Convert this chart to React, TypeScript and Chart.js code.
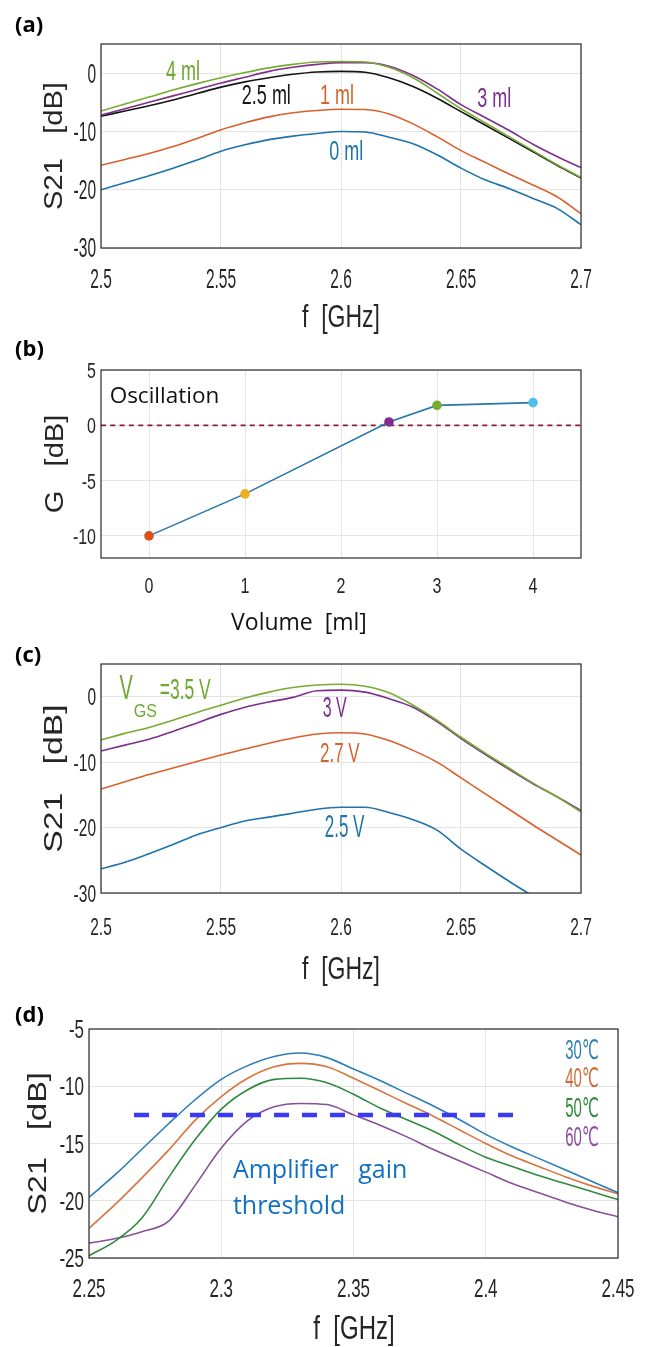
import React, { useEffect, useRef } from "react";
import { Chart, registerables } from "chart.js";

Chart.register(...registerables);

// ---------------- Panel (a): S21 vs f for liquid volume ----------------
const freqA = [2.5, 2.51, 2.52, 2.53, 2.54, 2.55, 2.56, 2.57, 2.58, 2.59, 2.6, 2.61, 2.62, 2.63, 2.64, 2.65, 2.66, 2.67, 2.68, 2.69, 2.7];
const s21Vol0 = [-20.0, -18.8, -17.6, -16.3, -14.9, -13.4, -12.3, -11.4, -10.8, -10.35, -10.0, -10.1, -11.0, -12.1, -14.0, -16.3, -18.3, -19.8, -21.5, -23.2, -26.0];
const s21Vol1 = [-15.8, -14.8, -13.8, -12.6, -11.2, -9.7, -8.5, -7.5, -6.8, -6.4, -6.2, -6.25, -7.0, -8.7, -10.9, -13.3, -15.3, -17.3, -19.2, -21.2, -24.1];
const s21Vol25 = [-7.4, -6.5, -5.6, -4.6, -3.5, -2.4, -1.5, -0.8, -0.2, 0.2, 0.3, 0.15, -0.8, -2.3, -4.3, -6.6, -8.9, -11.2, -13.5, -15.8, -18.0];
const s21Vol3 = [-7.2, -6.1, -5.0, -3.9, -2.8, -1.7, -0.7, 0.3, 1.0, 1.5, 1.8, 1.8, 1.2, -0.4, -2.7, -5.4, -7.6, -9.8, -12.2, -14.3, -16.2];
const s21Vol4 = [-6.5, -5.3, -4.1, -2.9, -1.8, -0.8, 0.1, 0.9, 1.5, 1.9, 2.0, 1.9, 1.0, -0.8, -3.4, -6.1, -8.5, -10.9, -13.3, -15.7, -17.9];
const freqTicksA = [2.5, 2.55, 2.6, 2.65, 2.7];
const freqTickLabelsA = ["2.5", "2.55", "2.6", "2.65", "2.7"];
const s21TicksA = [-30, -20, -10, 0];
const s21TickLabelsA = ["-30", "-20", "-10", "0"];

// ---------------- Panel (b): gain vs volume ----------------
const volumeMl = [0, 1, 2.5, 3, 4];
const gainDb = [-10.0, -6.2, 0.3, 1.8, 2.05];
const gainPointColors = ["#d95319", "#edb120", "#7e2f8e", "#77ac30", "#4dbeee"];
const oscLineX = [-0.5, 4.5];
const oscLineY = [0, 0];
const volTicks = [0, 1, 2, 3, 4];
const volTickLabels = ["0", "1", "2", "3", "4"];
const gainTicks = [-10, -5, 0, 5];
const gainTickLabels = ["-10", "-5", "0", "5"];

// ---------------- Panel (c): S21 vs f for V_GS ----------------
const freqC = [2.5, 2.51, 2.52, 2.53, 2.54, 2.55, 2.56, 2.57, 2.58, 2.59, 2.6, 2.61, 2.62, 2.63, 2.64, 2.65, 2.66, 2.67, 2.68, 2.69, 2.7];
const s21Vgs35 = [-6.6, -5.6, -4.7, -3.6, -2.4, -1.3, -0.2, 0.7, 1.4, 1.8, 1.9, 1.6, 0.6, -1.3, -3.6, -6.2, -8.6, -10.9, -13.2, -15.3, -17.6];
const s21Vgs3 = [-8.3, -7.4, -6.5, -5.3, -4.0, -2.7, -1.6, -0.8, -0.1, 0.9, 1.0, 0.7, -0.3, -1.6, -3.8, -6.4, -8.8, -11.1, -13.3, -15.3, -17.4];
const s21Vgs27 = [-14.1, -13.0, -11.9, -10.9, -9.9, -8.9, -8.0, -7.1, -6.3, -5.7, -5.5, -5.7, -6.7, -8.2, -10.0, -12.4, -14.8, -17.2, -19.6, -21.9, -24.2];
const s21Vgs25 = [-26.3, -25.3, -24.0, -22.6, -21.1, -20.0, -19.0, -18.4, -17.8, -17.2, -16.9, -16.9, -17.7, -18.8, -20.4, -23.3, -25.8, -28.2, -30.5, null, null];
const freqTicksC = [2.5, 2.55, 2.6, 2.65, 2.7];
const freqTickLabelsC = ["2.5", "2.55", "2.6", "2.65", "2.7"];
const s21TicksC = [-30, -20, -10, 0];
const s21TickLabelsC = ["-30", "-20", "-10", "0"];

// ---------------- Panel (d): S21 vs f for temperature ----------------
const freqD = [2.25, 2.26, 2.27, 2.28, 2.29, 2.3, 2.31, 2.32, 2.33, 2.34, 2.35, 2.36, 2.37, 2.38, 2.39, 2.4, 2.41, 2.42, 2.43, 2.44, 2.45];
const s21T30 = [-19.7, -17.7, -15.5, -13.3, -11.2, -9.4, -8.2, -7.4, -7.1, -7.5, -8.5, -9.5, -10.6, -11.7, -12.9, -14.2, -15.3, -16.3, -17.3, -18.3, -19.3];
const s21T40 = [-22.4, -20.3, -18.0, -15.6, -13.0, -10.9, -9.3, -8.3, -8.0, -8.3, -9.3, -10.4, -11.5, -12.6, -13.8, -15.0, -16.1, -17.0, -17.9, -18.7, -19.4];
const s21T50 = [-24.8, -23.5, -21.5, -18.0, -14.7, -12.0, -10.3, -9.4, -9.3, -9.7, -10.7, -11.9, -12.9, -13.9, -15.1, -16.2, -17.0, -17.8, -18.5, -19.2, -19.9];
const s21T60 = [-23.7, -23.3, -22.7, -21.8, -18.7, -15.4, -13.0, -11.8, -11.5, -11.6, -12.5, -13.4, -14.4, -15.5, -16.5, -17.5, -18.5, -19.3, -20.1, -20.8, -21.4];
const thresholdX = [2.267, 2.411];
const thresholdY = [-12.5, -12.5];
const freqTicksD = [2.25, 2.3, 2.35, 2.4, 2.45];
const freqTickLabelsD = ["2.25", "2.3", "2.35", "2.4", "2.45"];
const s21TicksD = [-25, -20, -15, -10, -5];
const s21TickLabelsD = ["-25", "-20", "-15", "-10", "-5"];

// ---------------- styling ----------------
const ML_FONT = '"Liberation Sans", Arial, "DejaVu Sans", sans-serif';
const CAL_FONT = '"Open Sans", "Noto Sans", sans-serif';
const INK = "#262626";
const GRID = "#e4e4e4";
const FRAME = "#2a2a2a";

type TextOpts = {
  size: number;
  family: string;
  color: string;
  weight?: string;
  sx?: number;
  sy?: number;
  align?: CanvasTextAlign;
  rotate?: number;
};

function drawText(ctx: CanvasRenderingContext2D, text: string, x: number, y: number, o: TextOpts) {
  ctx.save();
  ctx.translate(x, y);
  if (o.rotate) ctx.rotate(o.rotate);
  ctx.scale(o.sx ?? 1, o.sy ?? 1);
  ctx.font = `${o.weight ?? "normal"} ${o.size}px ${o.family}`;
  ctx.fillStyle = o.color;
  ctx.textAlign = o.align ?? "center";
  ctx.textBaseline = "middle";
  ctx.fillText(text, 0, 0);
  ctx.restore();
}

type Note = { text: string; x: number; y: number; o: TextOpts };

type PanelSpec = {
  top: number;
  height: number;
  area: { left: number; right: number; top: number; bottom: number };
  xMin: number;
  xMax: number;
  yMin: number;
  yMax: number;
  xTicks: number[];
  xTickLabels: string[];
  yTicks: number[];
  yTickLabels: string[];
  tickSize: number;
  tickSy: number;
  xTickGap: number;
  xTitle: { text: string; x: number; y: number; o: TextOpts };
  yTitle: { text: string; x: number; size: number; stretch: number };
  datasets: any[];
  notes: Note[];
};

const pts = (xs: number[], ys: (number | null)[]) => xs.map((x, i) => ({ x, y: ys[i] }));

const line = (label: string, xs: number[], ys: (number | null)[], color: string, width = 1.6, extra: any = {}) => ({
  label,
  data: pts(xs, ys),
  borderColor: color,
  backgroundColor: color,
  borderWidth: width,
  pointRadius: 0,
  fill: false,
  cubicInterpolationMode: "monotone",
  ...extra,
});

function makeConfig(spec: PanelSpec): any {
  const padTop = spec.area.top - spec.top;
  const padRight = 651 - spec.area.right;
  const xH = spec.top + spec.height - spec.area.bottom;
  const yW = spec.area.left;

  const decor = {
    id: "decor",
    afterDatasetsDraw(chart: any) {
      const ctx: CanvasRenderingContext2D = chart.ctx;
      const ca = chart.chartArea;
      const xs = chart.scales.x;
      const ys = chart.scales.y;
      ctx.save();
      ctx.strokeStyle = FRAME;
      ctx.lineWidth = 1.2;
      ctx.strokeRect(ca.left, ca.top, ca.right - ca.left, ca.bottom - ca.top);
      ctx.restore();

      xs.ticks.forEach((t: any, i: number) => {
        drawText(ctx, spec.xTickLabels[i], xs.getPixelForValue(t.value), ca.bottom + spec.xTickGap, {
          size: spec.tickSize, family: ML_FONT, color: INK, sy: spec.tickSy,
        });
      });
      ys.ticks.forEach((t: any, i: number) => {
        drawText(ctx, spec.yTickLabels[i], ca.left - 5, ys.getPixelForValue(t.value) + 2, {
          size: spec.tickSize, family: ML_FONT, color: INK, sy: spec.tickSy, align: "right",
        });
      });

      const xt = spec.xTitle;
      drawText(ctx, xt.text, xt.x, xt.y - spec.top, xt.o);
      const yt = spec.yTitle;
      drawText(ctx, yt.text, yt.x, (ca.top + ca.bottom) / 2, {
        size: yt.size, family: ML_FONT, color: INK, rotate: -Math.PI / 2, sx: yt.stretch,
      });

      spec.notes.forEach((n) => {
        drawText(ctx, n.text, xs.getPixelForValue(n.x), ys.getPixelForValue(n.y), n.o);
      });
    },
  };

  const axis = (min: number, max: number, ticks: number[], fit: (s: any) => void) => ({
    type: "linear",
    min,
    max,
    afterBuildTicks: (s: any) => {
      s.ticks = ticks.map((v) => ({ value: v }));
    },
    afterFit: fit,
    ticks: { display: false },
    grid: { color: GRID, lineWidth: 1, drawTicks: false },
    border: { display: false },
  });

  return {
    type: "line",
    data: { datasets: spec.datasets },
    options: {
      responsive: false,
      maintainAspectRatio: false,
      animation: false,
      devicePixelRatio: 1,
      events: [],
      layout: { padding: { top: padTop, right: padRight, left: 0, bottom: 0 } },
      plugins: { legend: { display: false }, tooltip: { enabled: false } },
      scales: {
        x: axis(spec.xMin, spec.xMax, spec.xTicks, (s: any) => { s.height = xH; }),
        y: axis(spec.yMin, spec.yMax, spec.yTicks, (s: any) => { s.width = yW; }),
      },
    },
    plugins: [decor],
  };
}

const mlNote = (text: string, x: number, y: number, color: string, size: number, sy: number): Note => ({
  text, x, y, o: { size, family: ML_FONT, color, sy },
});

// ---------------- panel specifications ----------------
const specA: PanelSpec = {
  top: 0,
  height: 335,
  area: { left: 101, right: 581, top: 44, bottom: 248 },
  xMin: 2.5, xMax: 2.7, yMin: -30, yMax: 5,
  xTicks: freqTicksA, xTickLabels: freqTickLabelsA,
  yTicks: s21TicksA, yTickLabels: s21TickLabelsA,
  tickSize: 15.5, tickSy: 1.75, xTickGap: 33,
  xTitle: { text: "f  [GHz]", x: 341, y: 318, o: { size: 23, family: ML_FONT, color: INK, sy: 1.35 } },
  yTitle: { text: "S21   [dB]", x: 55, size: 26, stretch: 1.12 },
  datasets: [
    line("4 ml", freqA, s21Vol4, "#77ac30"),
    line("3 ml", freqA, s21Vol3, "#7e2f8e"),
    line("2.5 ml", freqA, s21Vol25, "#141414"),
    line("1 ml", freqA, s21Vol1, "#d9602b"),
    line("0 ml", freqA, s21Vol0, "#1f72aa"),
  ],
  notes: [
    mlNote("4 ml", 2.5342, 0.1, "#6ea832", 18, 1.5),
    mlNote("2.5 ml", 2.5689, -4.1, "#141414", 18, 1.5),
    mlNote("1 ml", 2.5983, -4.0, "#d2642e", 18, 1.5),
    mlNote("0 ml", 2.6022, -13.6, "#1e75a8", 18, 1.5),
    mlNote("3 ml", 2.6639, -4.5, "#7e2f8e", 18, 1.5),
  ],
};

const specB: PanelSpec = {
  top: 335,
  height: 305,
  area: { left: 101, right: 581, top: 370, bottom: 558 },
  xMin: -0.5, xMax: 4.5, yMin: -12, yMax: 5,
  xTicks: volTicks, xTickLabels: volTickLabels,
  yTicks: gainTicks, yTickLabels: gainTickLabels,
  tickSize: 16, tickSy: 1.35, xTickGap: 29,
  xTitle: { text: "Volume  [ml]", x: 299, y: 623, o: { size: 23, family: CAL_FONT, color: "#111111" } },
  yTitle: { text: "G   [dB]", x: 56, size: 26, stretch: 1.12 },
  datasets: [
    {
      label: "G",
      data: pts(volumeMl, gainDb),
      borderColor: "#2878a8",
      backgroundColor: gainPointColors,
      pointBackgroundColor: gainPointColors,
      pointBorderColor: gainPointColors,
      pointRadius: 4.8,
      pointBorderWidth: 0,
      borderWidth: 1.6,
      tension: 0,
      fill: false,
    },
    {
      label: "0 dB",
      data: pts(oscLineX, oscLineY),
      borderColor: "#8b1a3a",
      borderWidth: 1.8,
      borderDash: [5, 4.3],
      pointRadius: 0,
      fill: false,
    },
  ],
  notes: [
    { text: "Oscillation", x: -0.41, y: 2.58, o: { size: 22.5, family: CAL_FONT, color: "#111111", align: "left" } },
  ],
};

const specC: PanelSpec = {
  top: 640,
  height: 355,
  area: { left: 101, right: 581, top: 664, bottom: 893 },
  xMin: 2.5, xMax: 2.7, yMin: -30, yMax: 5,
  xTicks: freqTicksC, xTickLabels: freqTickLabelsC,
  yTicks: s21TicksC, yTickLabels: s21TickLabelsC,
  tickSize: 15.5, tickSy: 1.55, xTickGap: 35,
  xTitle: { text: "f  [GHz]", x: 341, y: 970, o: { size: 23, family: ML_FONT, color: INK, sy: 1.35 } },
  yTitle: { text: "S21   [dB]", x: 55, size: 26, stretch: 1.3 },
  datasets: [
    line("3.5 V", freqC, s21Vgs35, "#77ac30"),
    line("3 V", freqC, s21Vgs3, "#7e2f8e"),
    line("2.7 V", freqC, s21Vgs27, "#d9602b"),
    line("2.5 V", freqC, s21Vgs25, "#1f72aa", 1.6, { clip: 0 }),
  ],
  notes: [
    mlNote("V", 2.5105, 1.15, "#6ea832", 20, 1.75),
    mlNote("GS", 2.5185, -2.3, "#6ea832", 16, 1.2),
    mlNote("=3.5 V", 2.5351, 0.9, "#6ea832", 17.5, 1.7),
    mlNote("3 V", 2.5974, -1.9, "#7e2f8e", 16, 1.85),
    mlNote("2.7 V", 2.5995, -8.8, "#d2642e", 17, 1.6),
    mlNote("2.5 V", 2.6015, -20.2, "#1e75a8", 17, 1.8),
  ],
};

const specD: PanelSpec = {
  top: 995,
  height: 352,
  area: { left: 89, right: 618, top: 1029, bottom: 1258 },
  xMin: 2.25, xMax: 2.45, yMin: -25, yMax: -5,
  xTicks: freqTicksD, xTickLabels: freqTickLabelsD,
  yTicks: s21TicksD, yTickLabels: s21TickLabelsD,
  tickSize: 17, tickSy: 1.5, xTickGap: 32,
  xTitle: { text: "f  [GHz]", x: 354, y: 1330, o: { size: 24, family: ML_FONT, color: INK, sy: 1.35 } },
  yTitle: { text: "S21   [dB]", x: 39, size: 26, stretch: 1.25 },
  datasets: [
    {
      label: "threshold",
      data: pts(thresholdX, thresholdY),
      borderColor: "#3a3af2",
      borderWidth: 4.5,
      borderDash: [15, 13],
      pointRadius: 0,
      fill: false,
    },
    line("30", freqD, s21T30, "#2a7db5"),
    line("40", freqD, s21T40, "#d9743e"),
    line("50", freqD, s21T50, "#2e8b3c"),
    line("60", freqD, s21T60, "#86509b"),
  ],
  notes: [
    mlNote("30℃", 2.4364, -6.98, "#2f80b0", 15, 1.8),
    mlNote("40℃", 2.4364, -9.45, "#d06a35", 15, 1.8),
    mlNote("50℃", 2.4364, -12.0, "#2e8b3c", 15, 1.8),
    mlNote("60℃", 2.4364, -14.6, "#8a4c9c", 15, 1.8),
    { text: "Amplifier   gain", x: 2.3044, y: -17.4, o: { size: 25, family: CAL_FONT, color: "#1170c4", align: "left" } },
    { text: "threshold", x: 2.3044, y: -20.5, o: { size: 25, family: CAL_FONT, color: "#1170c4", align: "left" } },
  ],
};

function Panel({ spec }: { spec: PanelSpec }) {
  const ref = useRef<HTMLCanvasElement>(null);
  useEffect(() => {
    const chart = new Chart(ref.current as HTMLCanvasElement, makeConfig(spec));
    return () => chart.destroy();
  }, []);
  return (
    <canvas
      ref={ref}
      width={651}
      height={spec.height}
      style={{ position: "absolute", left: 0, top: spec.top, width: 651, height: spec.height, display: "block" }}
    />
  );
}

const panelLabels = [
  { text: "(a)", top: 11 },
  { text: "(b)", top: 335 },
  { text: "(c)", top: 641 },
  { text: "(d)", top: 1001 },
];

export default function App() {
  return (
    <div style={{ position: "absolute", left: 0, top: 0, width: 651, height: 1347, background: "#ffffff", overflow: "hidden" }}>
      <Panel spec={specA} />
      <Panel spec={specB} />
      <Panel spec={specC} />
      <Panel spec={specD} />
      {panelLabels.map((p) => (
        <div
          key={p.text}
          style={{
            position: "absolute",
            left: 15,
            top: p.top,
            font: 'bold 22px "Open Sans", "Noto Sans", sans-serif',
            lineHeight: "24px",
            color: "#000",
          }}
        >
          {p.text}
        </div>
      ))}
    </div>
  );
}
